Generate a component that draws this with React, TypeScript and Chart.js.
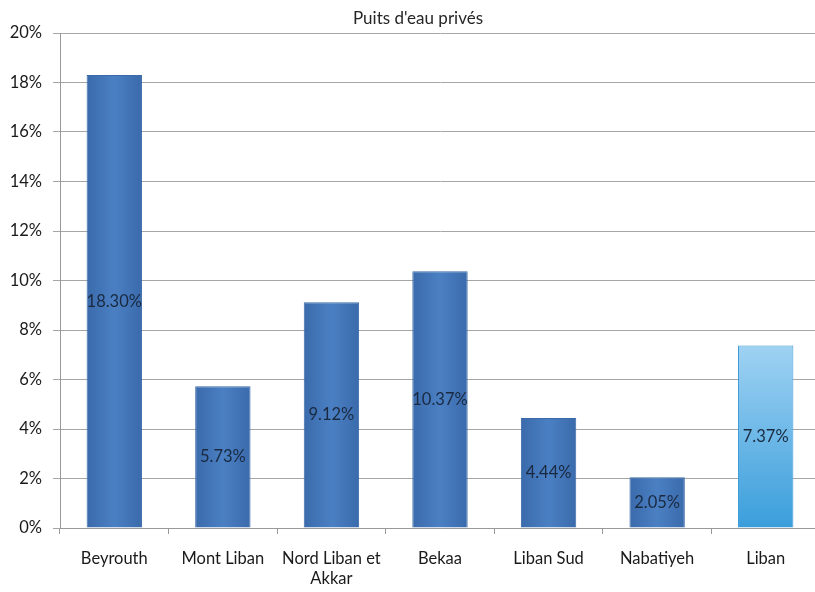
import React, { useEffect, useRef } from "react";
import { Chart, registerables } from "chart.js";

Chart.register(...registerables);

const TITLE = "Puits d'eau privés";
const categories: (string | string[])[] = [
  "Beyrouth",
  "Mont Liban",
  ["Nord Liban et", "Akkar"],
  "Bekaa",
  "Liban Sud",
  "Nabatiyeh",
  "Liban",
];
const values = [18.3, 5.73, 9.12, 10.37, 4.44, 2.05, 7.37];
const valueLabels = ["18.30%", "5.73%", "9.12%", "10.37%", "4.44%", "2.05%", "7.37%"];
const highlightIndex = 6;

const FONT = "Lato, 'Open Sans', sans-serif";

const titlePlugin = {
  id: "customTitle",
  afterDraw(chart: any) {
    const { ctx } = chart;
    ctx.save();
    ctx.font = `17px ${FONT}`;
    ctx.fillStyle = "#262626";
    ctx.textAlign = "center";
    ctx.textBaseline = "middle";
    ctx.fillText(TITLE, 418, 19);
    ctx.restore();
  },
};

const labelPlugin = {
  id: "barLabels",
  afterDatasetsDraw(chart: any) {
    const { ctx } = chart;
    const meta = chart.getDatasetMeta(0);
    ctx.save();
    ctx.font = `16.5px ${FONT}`;
    ctx.fillStyle = "#1a2940";
    ctx.textAlign = "center";
    ctx.textBaseline = "middle";
    meta.data.forEach((bar: any, i: number) => {
      const y = (bar.y + bar.base) / 2;
      ctx.fillText(valueLabels[i], bar.x, y);
    });
    ctx.restore();
  },
};

export default function App() {
  const ref = useRef<HTMLCanvasElement>(null);
  useEffect(() => {
    if (!ref.current) return;
    const chart = new Chart(ref.current, {
      type: "bar",
      data: {
        labels: categories,
        datasets: [
          {
            data: values,
            barPercentage: 0.51,
            categoryPercentage: 1,
            borderWidth: 1,
            borderColor: (c: any) => (c.dataIndex === highlightIndex ? "#3a9ad6" : "#3a6aa8"),
            backgroundColor: (c: any) => {
              const chart = c.chart;
              const area = chart.chartArea;
              if (!area) return "#4579be";
              const ctx = chart.ctx;
              const xs = chart.scales.x;
              const ys = chart.scales.y;
              if (c.dataIndex === highlightIndex) {
                const top = ys.getPixelForValue(values[c.dataIndex]);
                const g = ctx.createLinearGradient(0, top, 0, area.bottom);
                g.addColorStop(0, "#9fd2f3");
                g.addColorStop(1, "#3a9edb");
                return g;
              }
              const cx = xs.getPixelForValue(c.dataIndex);
              const hw = 28;
              const g = ctx.createLinearGradient(cx - hw, 0, cx + hw, 0);
              g.addColorStop(0, "#3a6aab");
              g.addColorStop(0.5, "#4a80c3");
              g.addColorStop(1, "#3a6aab");
              return g;
            },
          },
        ],
      },
      options: {
        responsive: false,
        animation: false,
        layout: { padding: { top: 33, left: 0, right: 2, bottom: 0 } },
        plugins: {
          legend: { display: false },
          title: { display: false },
          tooltip: { enabled: false },
        },
        scales: {
          x: {
            grid: {
              display: true,
              drawOnChartArea: false,
              drawTicks: true,
              tickLength: 6,
              color: "#999999",
              offset: true,
            },
            border: { display: true, color: "#999999", width: 1 },
            ticks: {
              color: "#1a1a1a",
              font: { family: FONT, size: 16.5, lineHeight: 1.2 },
              padding: 15,
              maxRotation: 0,
              autoSkip: false,
            },
            afterFit: (s: any) => {
              s.height = 64;
            },
          },
          y: {
            min: 0,
            max: 20,
            ticks: {
              stepSize: 2,
              color: "#1a1a1a",
              font: { family: FONT, size: 16.5 },
              padding: 11,
              callback: (v: any) => `${v}%`,
            },
            grid: {
              color: "#a6a6a6",
              lineWidth: 1,
              drawTicks: true,
              tickLength: 7,
            },
            border: { display: true, color: "#999999", width: 1 },
            afterFit: (s: any) => {
              s.width = 60;
            },
          },
        },
      },
      plugins: [titlePlugin, labelPlugin],
    });
    return () => chart.destroy();
  }, []);
  return (
    <div
      style={{
        position: "fixed",
        left: 0,
        top: 0,
        width: 815,
        height: 592,
        overflow: "hidden",
        background: "#ffffff",
      }}
    >
      <canvas ref={ref} width={822} height={592} style={{ width: 822, height: 592, display: "block" }} />
    </div>
  );
}
